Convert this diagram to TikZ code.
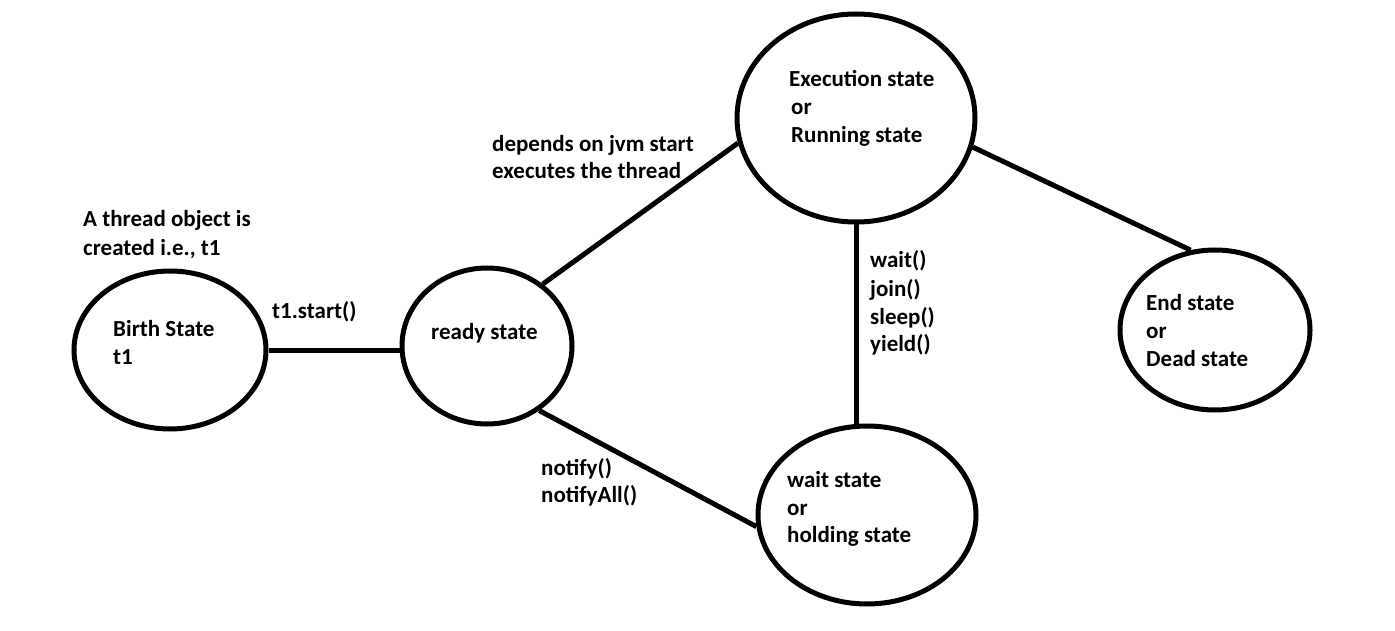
\documentclass[tikz,border=0pt]{standalone}
\usepackage{fontspec}
\setmainfont{Carlito}
\usetikzlibrary{shapes.geometric}
\begin{document}
\begin{tikzpicture}[x=1pt,y=-1pt,
  state/.style={draw=black, line width=5pt, ellipse, inner sep=0pt},
  link/.style={draw=black, line width=5pt},
  txt/.style={anchor=base west, inner sep=0pt, font=\fontsize{23}{28}\selectfont\bfseries}]
\useasboundingbox[fill=white] (0,0) rectangle (1395,631);
% states
\node[state, minimum width=192pt, minimum height=158pt] (birth) at (170,350) {};
\node[state, minimum width=170pt, minimum height=156pt] (ready) at (487,346) {};
\node[state, minimum width=238pt, minimum height=208pt] (exec) at (856,118) {};
\node[state, minimum width=218pt, minimum height=178pt] (wait) at (867,515) {};
\node[state, minimum width=190pt, minimum height=160pt] (end) at (1215,330) {};
% connectors
\draw[link] (birth.east) -- (birth.east -| ready.west);
\draw[link] (ready.48.7) -- (exec.192.4);
\draw[link] (exec.-14) -- (end.107);
\draw[link] (exec.south) -- ([yshift=-5pt]exec.south |- wait.north);
\draw[link] (ready.-51) -- (wait.186.4);
% texts
\node[txt] (t1a) at (83,227) {A thread object is};
\node[txt] (t1b) at (83,255) {created i.e., t1};
\node[txt] (b1) at (113,336) {Birth State};
\node[txt] (b2) at (113,364) {t1};
\node[txt] (st) at (272,318) {t1.start()};
\node[txt] (r1) at (431,339) {ready state};
\node[txt] (d1) at (492,152) {depends on jvm start};
\node[txt] (d2) at (492,179) {executes the thread};
\node[txt] (e1) at (789,87) {Execution state};
\node[txt] (e2) at (791,115) {or};
\node[txt] (e3) at (791,143) {Running state};
\node[txt] (w1) at (870,268) {wait()};
\node[txt] (w2) at (870,296) {join()};
\node[txt] (w3) at (870,324) {sleep()};
\node[txt] (w4) at (870,351) {yield()};
\node[txt] (n1) at (541,475) {notify()};
\node[txt] (n2) at (541,502) {notifyAll()};
\node[txt] (h1) at (787,487) {wait state};
\node[txt] (h2) at (787,515) {or};
\node[txt] (h3) at (787,542) {holding state};
\node[txt] (x1) at (1146,310) {End state};
\node[txt] (x2) at (1146,338) {or};
\node[txt] (x3) at (1146,366) {Dead state};
\end{tikzpicture}
\end{document}
